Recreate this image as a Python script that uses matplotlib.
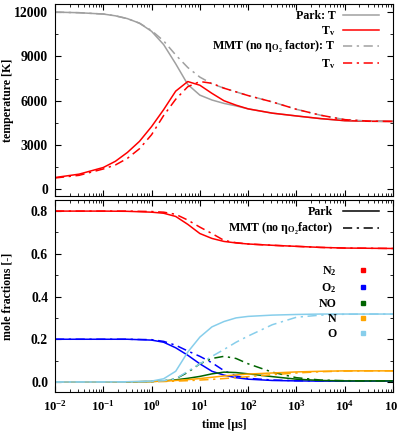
import matplotlib
matplotlib.use("Agg")
import matplotlib.pyplot as plt
from matplotlib.lines import Line2D
from matplotlib.ticker import LogLocator, MultipleLocator, LogFormatterMathtext, NullFormatter

plt.rcParams['font.family'] = ['Liberation Serif', 'DejaVu Serif']
plt.rcParams['font.weight'] = 'bold'
plt.rcParams['mathtext.default'] = 'regular'
plt.rcParams['font.size'] = 8.6

# time [us] for the temperature panel
t_top = [0.01, 0.0316, 0.1, 0.178, 0.316, 0.562, 1, 1.78, 3.16, 5.62, 10,
         17.8, 31.6, 56.2, 100, 316, 1000, 3162, 10000, 31623, 100000]
park_T = [12000, 11960, 11870, 11750, 11560, 11250, 10700, 9800, 8500, 7100,
          6380, 6050, 5820, 5650, 5450, 5160, 4970, 4790, 4650, 4610, 4600]
park_Tv = [800, 1030, 1480, 1900, 2500, 3250, 4250, 5400, 6650, 7300,
           7050, 6500, 6000, 5700, 5450, 5160, 4970, 4790, 4650, 4610, 4600]
mmt_T = [12000, 11960, 11870, 11750, 11560, 11250, 10750, 10050, 9100, 8250,
         7600, 7150, 6850, 6600, 6350, 5920, 5420, 5020, 4720, 4620, 4600]
mmt_Tv = [770, 950, 1380, 1650, 2100, 2750, 3700, 5000, 6100, 6950,
          7300, 7180, 6850, 6600, 6350, 5920, 5420, 5020, 4720, 4620, 4600]

# time [us] for the mole fraction panel
t_bot = [0.01, 0.0316, 0.1, 0.316, 1, 1.78, 3.16, 5.62, 10, 17.8, 31.6, 56.2,
         100, 316, 1000, 3162, 10000, 31623, 100000]
species = ['N$_2$', 'O$_2$', 'NO', 'N', 'O']
colors = ['#ff0000', '#0000ff', '#006400', '#ffa500', '#87ceeb']
park_x = [
    [0.8, 0.8, 0.8, 0.799, 0.795, 0.79, 0.775, 0.738, 0.695, 0.672, 0.658,
     0.651, 0.646, 0.64, 0.635, 0.63, 0.627, 0.626, 0.625],
    [0.2, 0.2, 0.2, 0.2, 0.196, 0.186, 0.16, 0.125, 0.085, 0.05, 0.032,
     0.02, 0.013, 0.007, 0.005, 0.004, 0.004, 0.004, 0.004],
    [0, 0, 0, 0, 0.002, 0.005, 0.01, 0.017, 0.026, 0.038, 0.046, 0.044,
     0.038, 0.025, 0.013, 0.007, 0.005, 0.005, 0.005],
    [0, 0, 0, 0.001, 0.002, 0.004, 0.007, 0.011, 0.016, 0.022, 0.028,
     0.033, 0.037, 0.042, 0.047, 0.05, 0.052, 0.052, 0.052],
    [0, 0, 0, 0.001, 0.004, 0.015, 0.05, 0.14, 0.21, 0.258, 0.283, 0.3,
     0.307, 0.313, 0.316, 0.318, 0.318, 0.318, 0.318],
]
mmt_x = [
    [0.8, 0.8, 0.8, 0.8, 0.798, 0.795, 0.785, 0.758, 0.725, 0.695, 0.663,
     0.652, 0.646, 0.64, 0.635, 0.63, 0.627, 0.626, 0.625],
    [0.2, 0.2, 0.2, 0.2, 0.198, 0.19, 0.172, 0.145, 0.12, 0.09, 0.053,
     0.028, 0.017, 0.009, 0.006, 0.005, 0.004, 0.004, 0.004],
    [0, 0, 0, 0, 0.002, 0.005, 0.015, 0.045, 0.085, 0.11, 0.12, 0.11,
     0.085, 0.046, 0.02, 0.009, 0.006, 0.005, 0.005],
    [0, 0, 0, 0, 0.001, 0.002, 0.004, 0.006, 0.009, 0.012, 0.016, 0.02,
     0.025, 0.034, 0.042, 0.048, 0.051, 0.052, 0.052],
    [0, 0, 0, 0, 0.002, 0.006, 0.015, 0.05, 0.085, 0.12, 0.152, 0.186,
     0.215, 0.268, 0.303, 0.313, 0.317, 0.318, 0.318],
]

grey = '#a0a0a0'
dd = (0, (6, 3, 1.5, 3))
lw = 1.1

fig = plt.figure(figsize=(3.97, 4.36), dpi=100)
ax1 = fig.add_axes([55/397, 1-196/436, 338/397, 192/436])
ax2 = fig.add_axes([55/397, 1-392/436, 338/397, 192/436])

ax1.plot(t_top, park_T, color=grey, lw=lw, label='Park: T')
ax1.plot(t_top, park_Tv, color='red', lw=lw, label='T$_v$')
ax1.plot(t_top, mmt_T, color=grey, lw=lw, ls=dd, label='MMT (no η$_{O_2}$ factor): T')
ax1.plot(t_top, mmt_Tv, color='red', lw=lw, ls=dd, label='T$_v$')
ax1.set_ylim(-450, 12550)
ax1.set_ylabel('temperature [K]', fontweight='bold')
ax1.yaxis.set_major_locator(MultipleLocator(3000))
ax1.yaxis.set_minor_locator(MultipleLocator(1500))
ax1.legend(loc='upper right', frameon=False, markerfirst=False, handlelength=3.0,
           borderaxespad=0.1, labelspacing=0.15, handletextpad=0.6,
           bbox_to_anchor=(0.975, 1.0))

for i in range(5):
    ax2.plot(t_bot, park_x[i], color=colors[i], lw=lw)
    ax2.plot(t_bot, mmt_x[i], color=colors[i], lw=lw, ls=dd)
ax2.set_ylim(-0.047, 0.852)
ax2.set_ylabel('mole fractions [-]', fontweight='bold')
ax2.set_xlabel('time [μs]', fontweight='bold')
ax2.yaxis.set_major_locator(MultipleLocator(0.2))
ax2.yaxis.set_minor_locator(MultipleLocator(0.1))

h_style = [Line2D([], [], color='black', lw=lw),
           Line2D([], [], color='black', lw=lw, ls=dd)]
leg1 = ax2.legend(h_style, ['Park', 'MMT (no η$_{O_2}$factor)'], loc='upper right',
                  frameon=False, markerfirst=False, handlelength=3.0,
                  borderaxespad=0.1, labelspacing=0.25, bbox_to_anchor=(0.975, 1.0))
ax2.add_artist(leg1)
h_sp = [Line2D([], [], color=c, ls='none', marker='s', ms=3.5) for c in colors]
ax2.legend(h_sp, species, loc='upper right', frameon=False, markerfirst=False,
           handlelength=1.0, handletextpad=1.7, labelspacing=0.25,
           bbox_to_anchor=(0.96, 0.72))

for ax in (ax1, ax2):
    ax.set_xscale('log')
    ax.set_xlim(0.01, 1e5)
    ax.xaxis.set_major_locator(LogLocator(base=10, numticks=20))
    ax.xaxis.set_minor_locator(LogLocator(base=10, subs=range(2, 10), numticks=20))
    ax.tick_params(which='both', direction='in', top=True, right=True)
    ax.tick_params(axis='y', labelsize=9.8, pad=5)
    ax.tick_params(axis='x', labelsize=9.2, pad=5)
    ax.tick_params(which='major', length=4)
    ax.tick_params(which='minor', length=2)
    ax.yaxis.set_label_coords(-0.122, 0.5)
ax1.xaxis.set_major_formatter(NullFormatter())
ax2.xaxis.set_major_formatter(LogFormatterMathtext())

fig.savefig('out.png', dpi=100)
